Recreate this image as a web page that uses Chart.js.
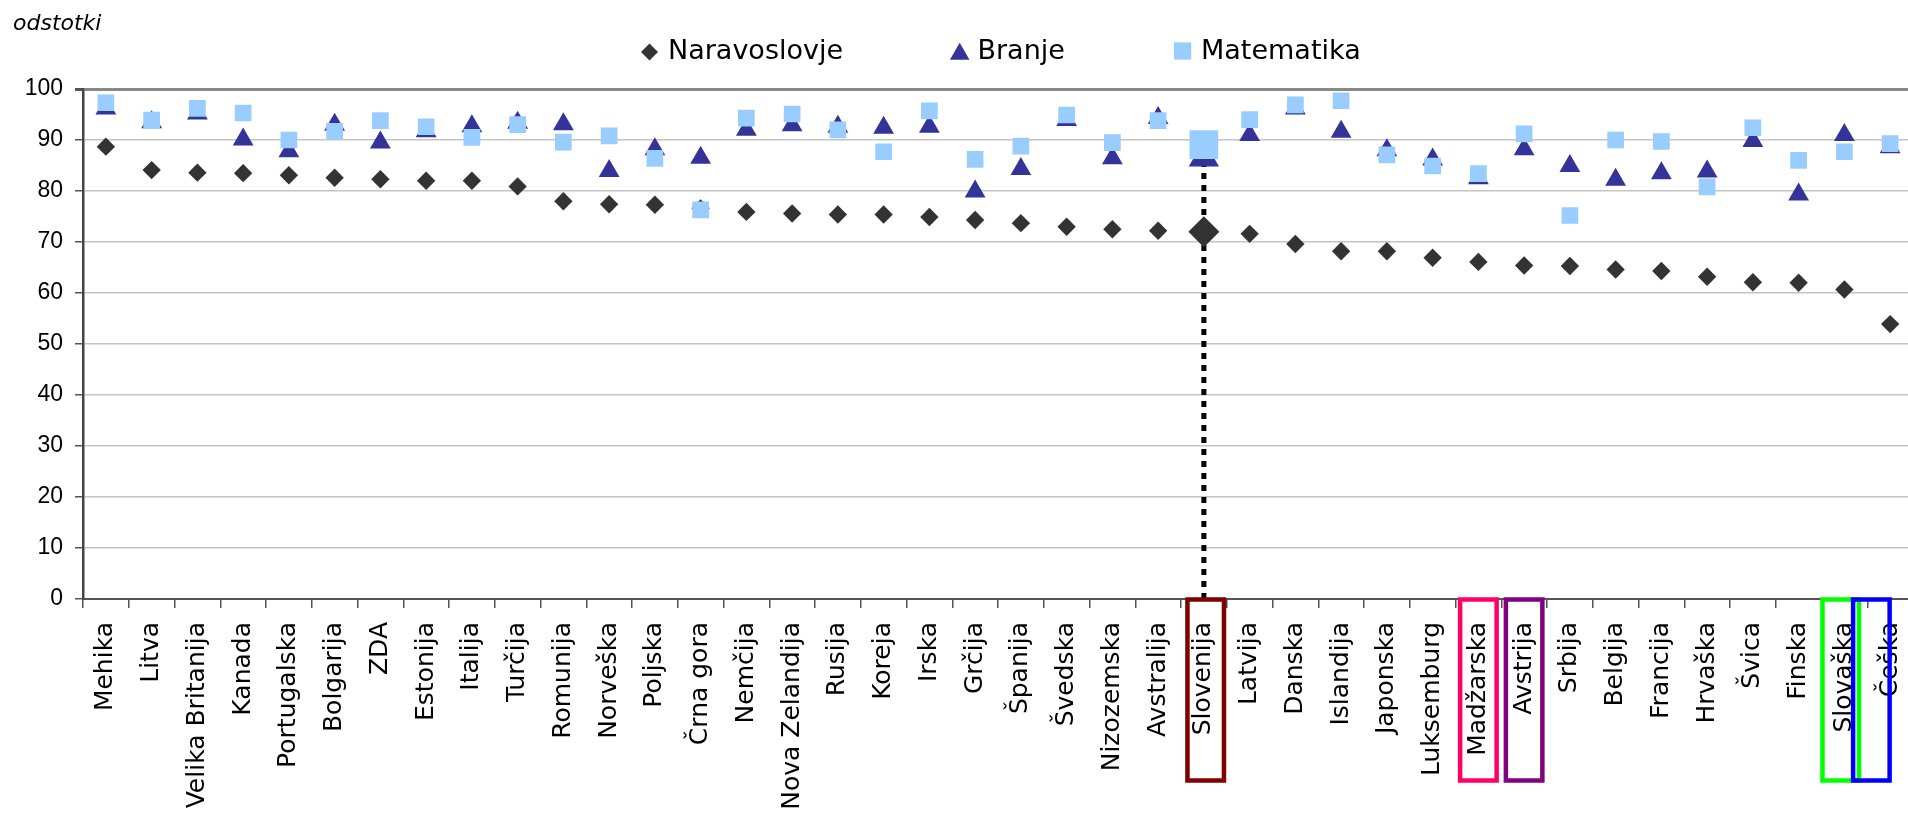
<!DOCTYPE html>
<html>
<head>
<meta charset="utf-8">
<script src="https://cdn.jsdelivr.net/npm/chart.js@4.4.1/dist/chart.umd.min.js"></script>
<style>
    html, body { margin: 0; padding: 0; background: #fff; overflow: hidden; }
    #wrap { position: relative; width: 1913px; height: 813px; }
</style>
</head>
<body>
<div id="wrap"><canvas id="chart"></canvas></div>
<script>
// Countries, sorted by the Naravoslovje share
const countries = [
    "Mehika", "Litva", "Velika Britanija", "Kanada", "Portugalska", "Bolgarija", "ZDA", "Estonija",
    "Italija", "Turčija", "Romunija", "Norveška", "Poljska", "Črna gora", "Nemčija", "Nova Zelandija",
    "Rusija", "Koreja", "Irska", "Grčija", "Španija", "Švedska", "Nizozemska", "Avstralija",
    "Slovenija", "Latvija", "Danska", "Islandija", "Japonska", "Luksemburg", "Madžarska", "Avstrija",
    "Srbija", "Belgija", "Francija", "Hrvaška", "Švica", "Finska", "Slovaška", "Češka"
];

const naravoslovje = [
    88.7, 84.1, 83.6, 83.5, 83.1, 82.6, 82.3, 82.0, 82.0, 80.9,
    78.0, 77.4, 77.3, 76.6, 75.9, 75.6, 75.4, 75.4, 74.9, 74.3,
    73.7, 73.0, 72.5, 72.2, 72.0, 71.6, 69.6, 68.2, 68.2, 66.9,
    66.1, 65.4, 65.3, 64.6, 64.3, 63.2, 62.1, 62.0, 60.7, 53.9
];

const branje = [
    96.2, 93.5, 95.2, 90.1, 87.8, 93.0, 89.5, 91.7, 92.7, 93.4,
    93.1, 83.9, 88.2, 86.5, 92.0, 92.9, 92.6, 92.4, 92.6, 79.9,
    84.3, 93.9, 86.4, 94.3, 86.5, 91.0, 96.2, 91.6, 88.0, 86.2,
    82.5, 88.2, 84.9, 82.2, 83.5, 83.8, 89.8, 79.3, 91.0, 88.6
];

const matematika = [
    97.3, 93.9, 96.2, 95.3, 90.0, 91.7, 93.8, 92.6, 90.5, 93.0,
    89.6, 90.8, 86.4, 76.3, 94.3, 95.1, 92.0, 87.7, 95.7, 86.2,
    88.8, 94.9, 89.5, 93.8, 89.1, 94.0, 96.9, 97.7, 87.1, 84.9,
    83.4, 91.2, 75.2, 90.0, 89.7, 80.8, 92.4, 86.0, 87.7, 89.3
];

const yTickValues = [0, 10, 20, 30, 40, 50, 60, 70, 80, 90, 100];

// Highlighted country and the labels framed below the axis
const highlighted = "Slovenija";
const framedCountries = ["Slovenija", "Madžarska", "Avstrija", "Slovaška", "Češka"];

const hlIndex = countries.indexOf(highlighted);
const FONT = "DejaVu Sans, Verdana, sans-serif";
const PLOT_LEFT = 83;
const CAT_WIDTH = 45.75;

// Marker size: bigger for the highlighted country
function sized(normal, big) {
    return ctx => ctx.dataIndex === hlIndex ? big : normal;
}

function drawMarker(ctx, style, x, y, r, color) {
    ctx.fillStyle = color;
    ctx.beginPath();
    if (style === "rectRot") {
        ctx.moveTo(x, y - r);
        ctx.lineTo(x + r, y);
        ctx.lineTo(x, y + r);
        ctx.lineTo(x - r, y);
    } else if (style === "triangle") {
        const w = r * Math.sqrt(3) / 2;
        ctx.moveTo(x, y - r);
        ctx.lineTo(x + w, y + r / 2);
        ctx.lineTo(x - w, y + r / 2);
    } else {
        const s = r * Math.SQRT1_2;
        ctx.rect(x - s, y - s, 2 * s, 2 * s);
    }
    ctx.closePath();
    ctx.fill();
}

// Axis caption, legend and coloured frames round some labels
const decorPlugin = {
    id: "decor",
    afterDraw(chart, args, opts) {
        const ctx = chart.ctx;
        const xs = chart.scales.x;
        const area = chart.chartArea;
        ctx.save();

        ctx.fillStyle = "#000";
        ctx.font = "italic 22px " + FONT;
        ctx.textBaseline = "alphabetic";
        ctx.textAlign = "left";
        ctx.fillText("odstotki", 13, 30);

        // legend
        ctx.font = "27px " + FONT;
        ctx.textBaseline = "middle";
        opts.legend.forEach(item => {
            const ds = chart.data.datasets[item.dataset];
            drawMarker(ctx, ds.pointStyle, item.mx, item.my, item.r, ds.pointBackgroundColor);
            ctx.fillStyle = "#000";
            ctx.fillText(ds.label, item.tx, 52);
        });

        // frames
        const catW = xs.getPixelForValue(1) - xs.getPixelForValue(0);
        framedCountries.forEach(name => {
            const f = opts.frames[name];
            const cx = xs.getPixelForValue(countries.indexOf(name)) + f.shift * catW;
            const w = 36.5;
            ctx.strokeStyle = f.color;
            ctx.lineWidth = 4.5;
            ctx.strokeRect(cx - w / 2, area.bottom + 0.5, w, 181);
        });
        ctx.restore();
    }
};

const wrap = document.getElementById("wrap");
const chart = new Chart(document.getElementById("chart"), {
    type: "line",
    data: {
        labels: countries,
        datasets: [
            {
                label: "Matematika",
                data: matematika,
                showLine: false,
                pointStyle: "rect",
                pointRadius: sized(11.8, 20.3),
                pointBackgroundColor: "#99ccff",
                pointBorderWidth: 0,
                order: 0
            },
            {
                label: "Branje",
                data: branje,
                showLine: false,
                pointStyle: "triangle",
                pointRadius: sized(12, 17.5),
                pointBackgroundColor: "#333399",
                pointBorderWidth: 0,
                order: 1
            },
            {
                label: "Naravoslovje",
                data: naravoslovje,
                showLine: false,
                pointStyle: "rectRot",
                pointRadius: sized(9.2, 15.5),
                pointBackgroundColor: "#333333",
                pointBorderWidth: 0,
                order: 2
            },
            {
                label: "marker line",
                data: [{ x: highlighted, y: 0 }, { x: highlighted, y: branje[hlIndex] }],
                showLine: true,
                borderColor: "#000",
                borderWidth: 5,
                borderDash: [6, 6],
                pointRadius: 0,
                order: 3
            }
        ]
    },
    options: {
        responsive: true,
        maintainAspectRatio: false,
        animation: false,
        events: [],
        layout: { padding: { top: 89, left: 0, right: 0, bottom: 0 } },
        scales: {
            x: {
                type: "category",
                offset: true,
                grid: { offset: true, drawOnChartArea: false, drawTicks: true, tickLength: 9, tickColor: "#555", lineWidth: 1.5 },
                border: { color: "#555", width: 2 },
                ticks: {
                    autoSkip: false,
                    maxRotation: 90,
                    minRotation: 90,
                    padding: 14,
                    color: "#000",
                    font: { family: FONT, size: 25 }
                },
                afterFit: s => { s.height = 214; s.paddingLeft = 0; s.paddingRight = 0; }
            },
            y: {
                min: 0,
                max: 100,
                afterBuildTicks: s => { s.ticks = yTickValues.map(v => ({ value: v })); },
                ticks: {
                    padding: 12,
                    color: "#000",
                    font: { family: "Liberation Sans, Arial, sans-serif", size: 23 }
                },
                grid: {
                    color: c => c.tick && c.tick.value === 100 ? "#888" : "#c4c4c4",
                    lineWidth: c => c.tick && c.tick.value === 100 ? 3 : 1.5,
                    tickLength: 8,
                    tickColor: "#555"
                },
                border: { color: "#444", width: 2.5 },
                afterFit: s => { s.width = PLOT_LEFT; }
            }
        },
        plugins: {
            legend: { display: false },
            tooltip: { enabled: false },
            decor: {
                legend: [
                    { dataset: 2, mx: 649.5, my: 52, r: 8.5, tx: 668 },
                    { dataset: 1, mx: 959.7, my: 54, r: 11.3, tx: 977.5 },
                    { dataset: 0, mx: 1182.6, my: 51, r: 12.2, tx: 1201 }
                ],
                frames: {
                    "Slovenija": { color: "#800000", shift: 0.04 },
                    "Madžarska": { color: "#ff0066", shift: 0 },
                    "Avstrija": { color: "#800080", shift: 0 },
                    "Slovaška": { color: "#00ff00", shift: -0.08 },
                    "Češka": { color: "#0000ff", shift: -0.41 }
                }
            }
        }
    },
    plugins: [decorPlugin]
});

// the plot runs a little past the window edge, as in the original
const lost = PLOT_LEFT + countries.length * CAT_WIDTH - chart.chartArea.right;
if (Math.abs(lost) > 0.5) {
    wrap.style.width = (wrap.offsetWidth + lost) + "px";
    chart.resize();
}
</script>
</body>
</html>
